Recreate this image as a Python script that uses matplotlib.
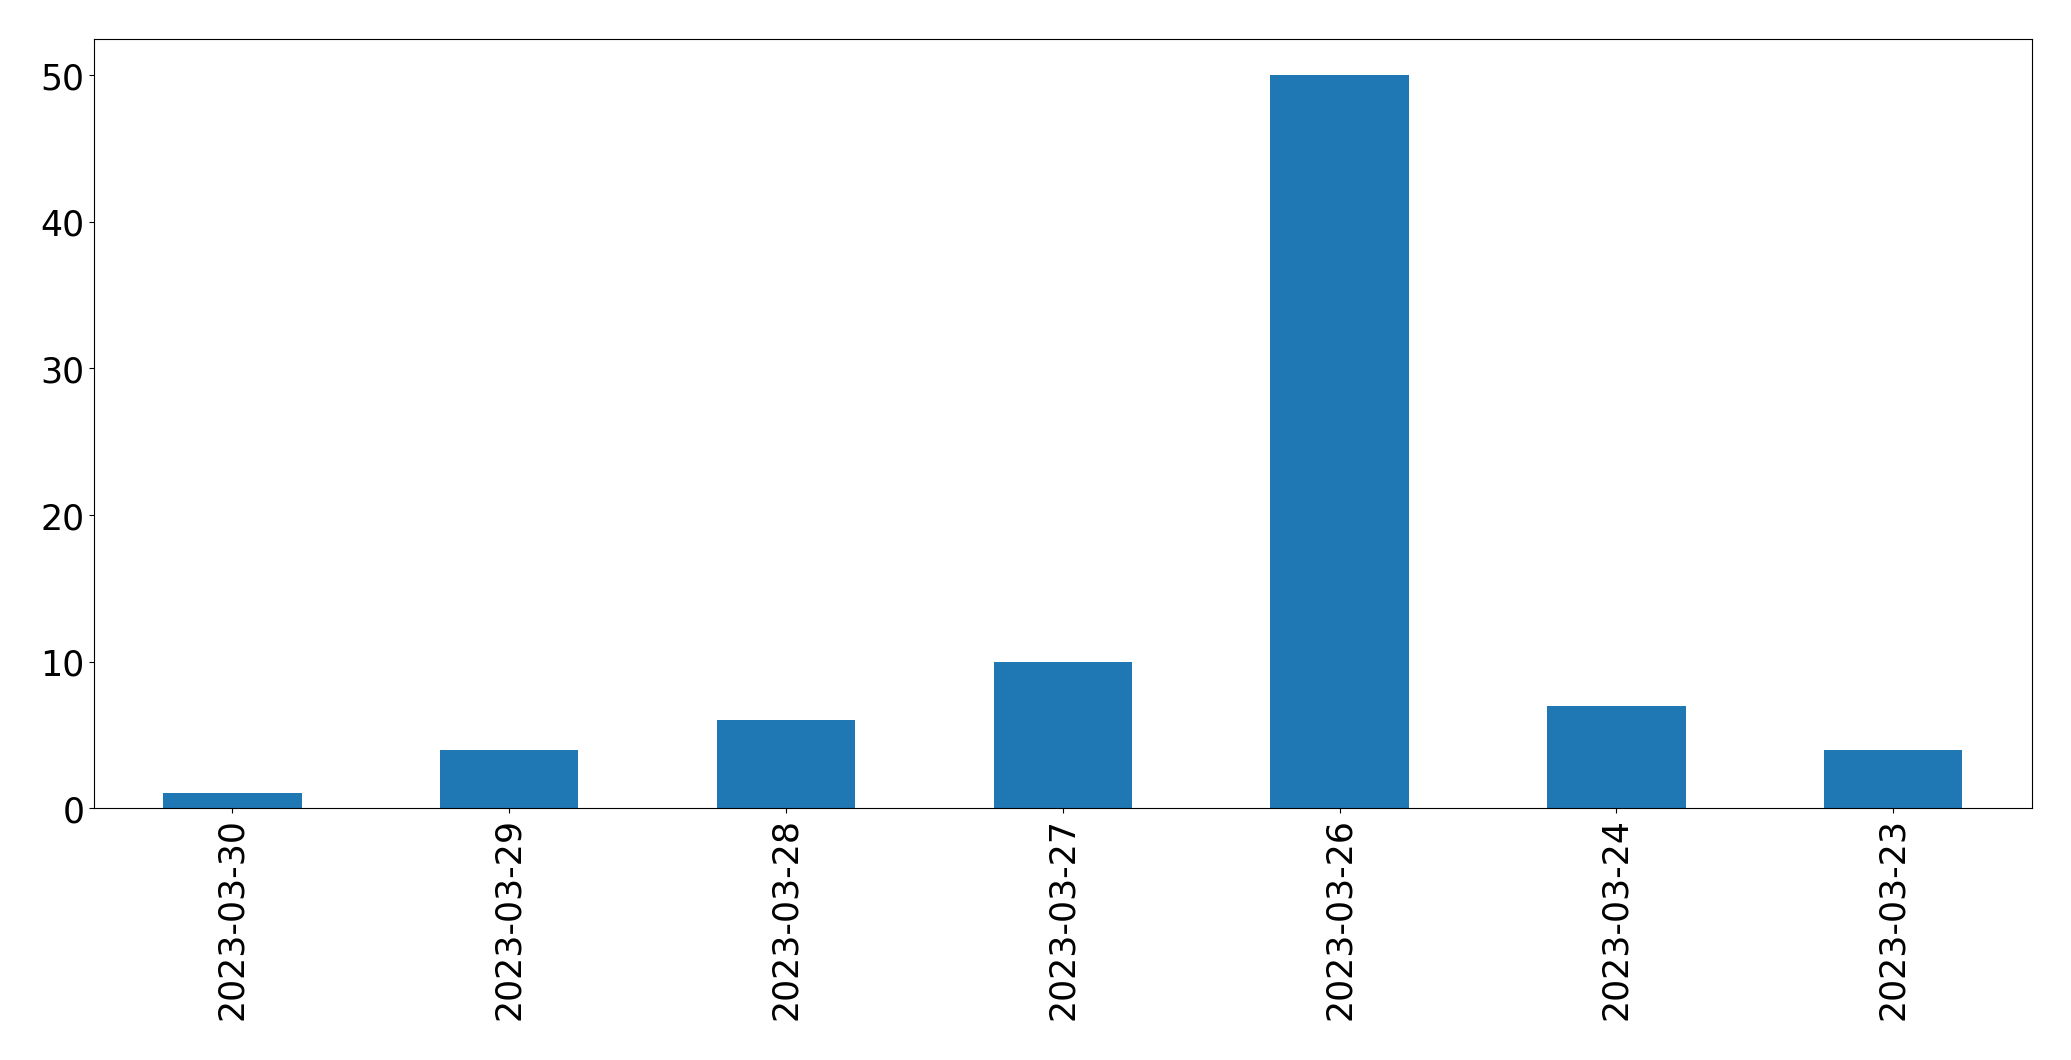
import matplotlib
matplotlib.use("Agg")
import matplotlib.pyplot as plt
import numpy as np

dates = ["2023-03-30", "2023-03-29", "2023-03-28", "2023-03-27",
         "2023-03-26", "2023-03-24", "2023-03-23"]
counts = [1, 4, 6, 10, 50, 7, 4]

fig, ax = plt.subplots(figsize=(20.71, 10.605), dpi=100)
x = np.arange(len(dates))
ax.bar(x, counts, width=0.5, color="#1f77b4")
ax.set_xticks(x)
ax.set_xticklabels(dates, rotation=90, fontsize=25)
ax.tick_params(axis="y", labelsize=25)
ax.set_xlim(-0.5, len(dates) - 0.5)
ax.set_ylim(0, 52.5)

fig.subplots_adjust(left=0.0454, right=0.981, top=0.963, bottom=0.2375)
fig.savefig("out.png", dpi=100)
